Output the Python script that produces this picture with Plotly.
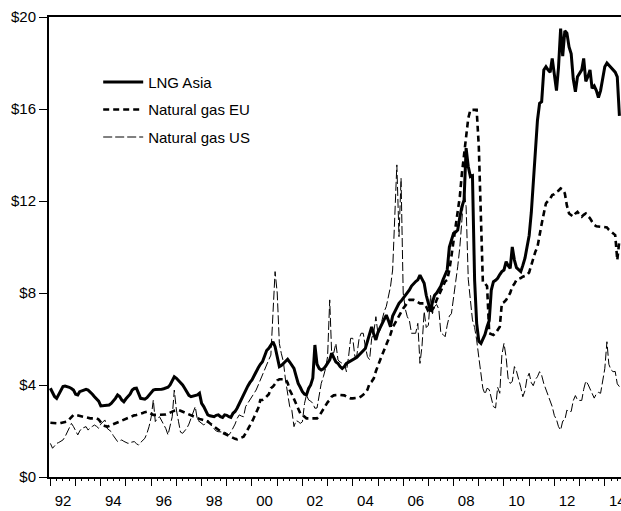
import pandas as pd
import plotly.graph_objects as go

# Monthly prices, $/mmbtu, Jan 1992 - Aug 2014
lng_asia = [
    3.86, 3.7, 3.5, 3.42, 3.6, 3.8, 3.93, 3.95, 3.93, 3.9, 3.85, 3.78,
    3.6, 3.57, 3.71, 3.75, 3.8, 3.81, 3.78, 3.71, 3.6, 3.49, 3.4, 3.3,
    3.09, 3.1, 3.12, 3.13, 3.13, 3.2, 3.3, 3.42, 3.57, 3.5, 3.35, 3.27,
    3.4, 3.49, 3.6, 3.78, 3.85, 3.86, 3.6, 3.42, 3.4, 3.38, 3.45, 3.57,
    3.65, 3.78, 3.8, 3.8, 3.81, 3.82, 3.84, 3.86, 3.9, 4.0, 4.2, 4.36,
    4.29, 4.2, 4.1, 4.0, 3.86, 3.7, 3.55, 3.49, 3.52, 3.55, 3.57, 3.64,
    3.2, 3.06, 2.85, 2.70, 2.66, 2.64, 2.62, 2.68, 2.70, 2.62, 2.59, 2.70,
    2.68, 2.62, 2.59, 2.77, 2.85, 3.0, 3.2, 3.4, 3.6, 3.8, 3.95, 4.1,
    4.22, 4.4, 4.6, 4.75, 4.9, 5.01, 5.25, 5.5, 5.6, 5.75, 5.88, 5.67,
    5.2, 4.80, 4.85, 4.94, 5.0, 5.12, 5.0, 4.85, 4.72, 4.4, 4.07, 3.9,
    3.71, 3.6, 3.57, 3.85, 4.0, 4.3, 5.74, 4.9, 4.72, 4.65, 4.7, 4.80,
    4.95, 5.09, 5.38, 5.2, 5.0, 4.94, 4.8, 4.72, 4.8, 4.94, 5.0, 5.05,
    5.09, 5.15, 5.2, 5.3, 5.4, 5.5, 5.59, 5.9, 6.2, 6.53, 6.2, 5.96,
    6.3, 6.5, 6.68, 6.85, 7.04, 6.8, 6.53, 7.0, 7.19, 7.35, 7.55, 7.65,
    7.77, 7.9, 8.0, 8.13, 8.3, 8.42, 8.5, 8.57, 8.78, 8.6, 8.42, 7.9,
    7.5, 7.2, 7.6, 7.9, 8.0, 8.13, 8.3, 8.57, 8.8, 9.0, 10.0, 10.3,
    10.6, 10.65, 10.74, 11.3, 11.75, 12.04, 14.3, 13.5, 13.06, 13.1, 8.57, 6.68,
    5.9, 5.81, 6.0, 6.2, 6.53, 6.8, 8.13, 8.49, 8.55, 8.64, 8.8, 8.93,
    9.0, 9.36, 9.2, 9.07, 10.0, 9.43, 9.1, 9.0, 8.93, 9.2, 9.51, 10.0,
    10.5, 11.5, 12.8, 14.36, 15.5, 16.25, 16.32, 17.7, 17.84, 17.7, 17.6, 18.2,
    17.5, 16.8, 17.8, 19.5, 18.3, 19.4, 19.3, 18.7, 18.4, 17.3, 16.75, 17.4,
    17.55, 17.7, 18.2, 17.2, 17.4, 17.7, 16.9, 17.0, 16.8, 16.5, 16.8, 17.3,
    17.84, 18.0, 17.9, 17.77, 17.7, 17.6, 17.4, 15.7,
]

gas_eu = [
    2.36, 2.35, 2.34, 2.33, 2.33, 2.35, 2.38, 2.40, 2.41, 2.5, 2.6, 2.70,
    2.70, 2.68, 2.65, 2.62, 2.60, 2.58, 2.55, 2.55, 2.55, 2.55, 2.55, 2.50,
    2.35, 2.26, 2.22, 2.19, 2.22, 2.26, 2.30, 2.33, 2.38, 2.43, 2.48, 2.52,
    2.55, 2.58, 2.62, 2.65, 2.68, 2.70, 2.72, 2.75, 2.78, 2.82, 2.84, 2.80,
    2.75, 2.70, 2.70, 2.70, 2.70, 2.70, 2.70, 2.72, 2.75, 2.78, 2.84, 2.88,
    2.91, 2.91, 2.88, 2.84, 2.80, 2.77, 2.72, 2.68, 2.63, 2.58, 2.55, 2.52,
    2.50, 2.48, 2.45, 2.40, 2.33, 2.26, 2.18, 2.10, 2.03, 1.97, 1.92, 1.88,
    1.83, 1.78, 1.74, 1.70, 1.66, 1.64, 1.68, 1.72, 1.75, 1.90, 2.05, 2.20,
    2.40, 2.60, 2.77, 3.0, 3.35, 3.35, 3.40, 3.50, 3.60, 3.86, 3.93, 4.05,
    4.20, 4.25, 4.25, 4.25, 4.25, 4.10, 3.78, 3.60, 3.40, 3.20, 3.00, 2.77,
    2.70, 2.60, 2.55, 2.55, 2.55, 2.55, 2.55, 2.55, 2.65, 2.80, 2.99, 3.10,
    3.25, 3.35, 3.49, 3.55, 3.57, 3.57, 3.57, 3.57, 3.55, 3.50, 3.45, 3.42,
    3.42, 3.42, 3.42, 3.45, 3.50, 3.57, 3.65, 3.80, 4.07, 4.15, 4.29, 4.60,
    4.90, 5.09, 5.30, 5.52, 5.70, 5.96, 6.20, 6.50, 6.68, 6.85, 7.0, 7.15,
    7.33, 7.45, 7.55, 7.70, 7.70, 7.70, 7.65, 7.60, 7.55, 7.55, 7.55, 7.40,
    7.20, 7.12, 7.25, 7.45, 7.70, 7.90, 8.10, 8.30, 8.50, 8.57, 9.0, 9.6,
    10.3, 11.0, 11.6, 12.2, 13.2, 14.0, 14.6, 15.6, 15.96, 15.96, 15.96, 15.96,
    14.36, 11.0, 8.45, 8.42, 8.3, 6.25, 6.20, 6.17, 6.25, 6.40, 6.53, 7.55,
    7.60, 7.70, 7.84, 8.0, 8.28, 8.40, 8.57, 8.60, 8.65, 8.71, 8.75, 8.78,
    8.9, 9.22, 9.5, 9.8, 10.0, 10.6, 11.0, 11.46, 11.9, 12.0, 12.1, 12.26,
    12.3, 12.4, 12.45, 12.55, 12.5, 12.33, 11.8, 11.46, 11.4, 11.32, 11.45, 11.53,
    11.4, 11.32, 11.4, 11.46, 11.35, 11.25, 11.1, 10.96, 10.9, 10.88, 10.88, 10.88,
    10.88, 10.85, 10.75, 10.67, 10.6, 10.52, 9.43, 10.3,
]

gas_us = [
    1.46, 1.25, 1.35, 1.46, 1.50, 1.55, 1.61, 1.75, 1.97, 2.15, 2.33, 2.19,
    2.0, 1.83, 2.0, 2.12, 2.15, 2.19, 2.04, 2.15, 2.2, 2.26, 2.2, 2.12,
    2.3, 2.4, 2.48, 2.12, 2.05, 1.97, 1.8, 1.65, 1.54, 1.58, 1.61, 1.55,
    1.5, 1.46, 1.5, 1.52, 1.54, 1.45, 1.39, 1.5, 1.6, 1.68, 1.9, 2.19,
    2.6, 3.35, 2.41, 2.55, 2.62, 2.45, 2.33, 2.1, 1.83, 2.2, 2.62, 3.78,
    2.91, 2.4, 1.95, 1.90, 2.0, 2.12, 2.3, 2.55, 2.8, 3.06, 2.48, 2.4,
    2.3, 2.26, 2.35, 2.48, 2.35, 2.19, 2.1, 2.0, 1.97, 1.97, 1.97, 1.95,
    1.9, 1.83, 1.95, 2.12, 2.3, 2.55, 2.70, 2.65, 2.62, 3.06, 3.2, 3.35,
    3.5, 3.65, 3.78, 4.0, 4.22, 4.5, 4.7, 4.94, 5.1, 5.3, 7.0, 8.93,
    8.0, 5.8, 5.38, 5.0, 4.22, 3.64, 3.06, 2.9, 2.19, 2.45, 2.41, 2.33,
    2.4, 3.20, 3.57, 3.35, 3.30, 3.20, 2.99, 3.0, 3.5, 4.07, 4.36, 4.7,
    5.23, 7.70, 5.38, 5.4, 5.81, 5.09, 5.0, 4.94, 4.94, 4.58, 5.23, 6.03,
    6.03, 5.23, 5.3, 6.0, 6.25, 6.25, 5.67, 5.23, 5.1, 6.03, 6.3, 6.97,
    6.2, 6.4, 6.83, 7.2, 7.41, 7.9, 8.28, 9.0, 11.3, 13.57, 10.45, 12.99,
    8.0, 7.3, 6.97, 6.8, 6.25, 6.25, 6.25, 6.68, 4.94, 5.7, 7.2, 6.5,
    6.6, 7.9, 7.1, 7.41, 7.5, 7.3, 6.25, 6.2, 6.10, 6.6, 7.0, 7.1,
    7.70, 8.5, 9.14, 10.0, 11.17, 12.48, 11.75, 8.6, 7.70, 6.83, 6.5, 5.96,
    5.2, 4.5, 3.85, 3.6, 3.86, 3.8, 3.45, 3.06, 3.0, 3.9, 3.64, 5.3,
    5.81, 5.2, 4.3, 4.07, 4.15, 4.8, 4.6, 4.3, 3.9, 3.49, 3.75, 4.3,
    4.51, 4.1, 3.97, 4.24, 4.36, 4.58, 4.42, 4.06, 3.78, 3.57, 3.24, 3.06,
    2.67, 2.5, 2.19, 2.04, 2.43, 2.48, 2.91, 2.84, 2.85, 3.32, 3.54, 3.35,
    3.33, 3.33, 3.81, 4.17, 4.04, 3.83, 3.62, 3.43, 3.62, 3.68, 3.64, 4.24,
    4.71, 5.88, 4.9, 4.66, 4.58, 4.59, 4.05, 3.93,
]

series_names = ["LNG Asia", "Natural gas EU", "Natural gas US"]
months = pd.date_range("1992-01-01", periods=len(lng_asia), freq="MS")

label_years = list(range(1992, 2015, 2))
label_text = [f"{y % 100:02d}" for y in label_years]
y_ticks = [0, 4, 8, 12, 16, 20]
y_text = [f"${v}" for v in y_ticks]

label_pos = [f"{y}-07-02" for y in label_years]
year_starts = [f"{y}-01-01" for y in range(1992, 2015)]
quarter_starts = list(pd.date_range("1992-01-01", "2014-07-01", freq="QS"))
x_range = ["1991-12-12", "2014-08-24"]

FONT = "Arial, Liberation Sans, sans-serif"

fig = go.Figure()
fig.add_trace(go.Scatter(x=months, y=lng_asia, mode="lines", name=series_names[0],
                         legendgroup="a", line=dict(color="black", width=3)))
fig.add_trace(go.Scatter(x=months, y=gas_eu, mode="lines", name=series_names[1],
                         legendgroup="b", line=dict(color="black", width=2.6, dash="6px,4px")))
fig.add_trace(go.Scatter(x=months, y=gas_us, mode="lines", name=series_names[2],
                         legendgroup="c", line=dict(color="black", width=1, dash="9px,3px")))
fig.add_trace(go.Scatter(x=[], y=[], xaxis="x2", showlegend=False, hoverinfo="skip"))

fig.update_layout(
    width=621, height=511,
    margin=dict(l=49, r=0, t=17, b=34),
    paper_bgcolor="white", plot_bgcolor="white",
    font=dict(family=FONT, size=15, color="black"),
    showlegend=True,
    legend=dict(x=0.086, y=0.894, xanchor="left", yanchor="top",
                bgcolor="rgba(0,0,0,0)", borderwidth=0, itemwidth=40,
                font=dict(family=FONT, size=15, color="black"),
                traceorder="grouped", tracegroupgap=5),
    xaxis=dict(
        type="date", range=x_range, automargin=False,
        showline=True, linecolor="black", linewidth=2, mirror=True,
        showgrid=False, zeroline=False,
        tickmode="array", tickvals=label_pos, ticktext=label_text,
        ticks="outside", ticklen=9, tickcolor="rgba(0,0,0,0)",
        ticklabeloverflow="allow",
        tickfont=dict(family=FONT, size=15, color="black"),
        minor=dict(tickmode="array", tickvals=year_starts, ticks="outside",
                   ticklen=7, tickwidth=1, tickcolor="black", showgrid=False),
    ),
    xaxis2=dict(
        type="date", range=x_range, overlaying="x", anchor="y", side="bottom",
        showline=False, showgrid=False, zeroline=False, automargin=False,
        tickmode="array", tickvals=quarter_starts, ticks="outside",
        ticklen=3, tickwidth=1, tickcolor="black", showticklabels=False,
    ),
    yaxis=dict(
        range=[0, 20], showline=True, linecolor="black", linewidth=2,
        showgrid=False, zeroline=False, automargin=False,
        tickmode="array", tickvals=y_ticks, ticktext=y_text,
        ticks="outside", ticklen=8, tickwidth=1, tickcolor="black",
        tickfont=dict(family=FONT, size=15, color="black"),
    ),
)

# Remove the page's default body margin and scrollbars so the figure fills the window.
fig.write_html(
    "out.html",
    config={"displayModeBar": False},
    post_script="document.body.style.margin='0';"
                "document.documentElement.style.overflow='hidden';",
)
